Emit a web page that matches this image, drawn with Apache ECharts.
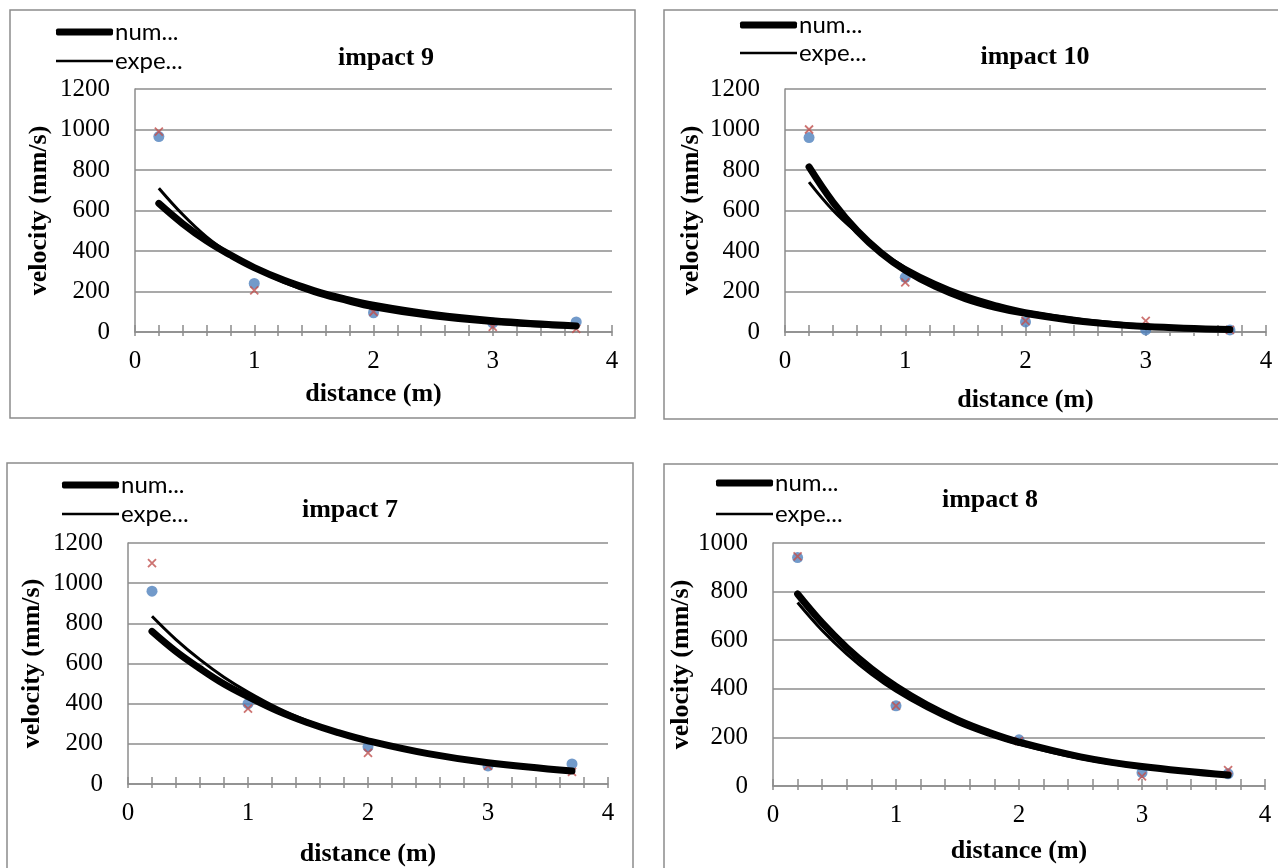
<!DOCTYPE html>
<html>
<head>
<meta charset="utf-8">
<script src="https://cdn.jsdelivr.net/npm/echarts@6/dist/echarts.min.js"></script>
<style>
html,body{margin:0;padding:0;background:#fff;}
#main{width:1278px;height:868px;}
</style>
</head>
<body>
<div id="main"></div>
<script>
// ---- data ----
const titles = ['impact 9', 'impact 10', 'impact 7', 'impact 8'];
const yMax = [1200, 1200, 1200, 1000];
const xTickLabels = ['0', '1', '2', '3', '4'];

// measured points: numerical (blue dots) and experimental (red crosses)
const num9  = [[0.2, 965], [1, 240], [2, 95], [3, 45], [3.7, 50]];
const exp9  = [[0.2, 990], [1, 205], [2, 100], [3, 25], [3.7, 15]];
const num10 = [[0.2, 960], [1, 270], [2, 50], [3, 10], [3.7, 10]];
const exp10 = [[0.2, 1000], [1, 245], [2, 55], [3, 55], [3.7, 10]];
const num7  = [[0.2, 960], [1, 400], [2, 185], [3, 90], [3.7, 100]];
const exp7  = [[0.2, 1100], [1, 375], [2, 155], [3, 90], [3.7, 60]];
const num8  = [[0.2, 940], [1, 330], [2, 190], [3, 55], [3.7, 50]];
const exp8  = [[0.2, 945], [1, 330], [2, 185], [3, 40], [3.7, 65]];

// trend curves
const trendX = [0.2, 0.4, 0.6, 0.8, 1.0, 1.25, 1.5, 1.75, 2.0, 2.5, 3.0, 3.7];
const numTrend9  = [635, 535, 450, 380, 318, 255, 205, 165, 132, 86, 56, 30];
const expTrend9  = [710, 580, 470, 385, 315, 245, 190, 150, 115, 70, 42, 22];
const numTrend10 = [815, 640, 500, 390, 305, 225, 165, 122, 92, 50, 27, 12];
const expTrend10 = [740, 600, 490, 395, 320, 245, 185, 140, 105, 60, 33, 14];
const numTrend7  = [760, 660, 575, 498, 435, 363, 305, 256, 215, 151, 106, 65];
const expTrend7  = [835, 719, 619, 532, 458, 378, 313, 259, 216, 148, 102, 60];
const numTrend8  = [790, 671, 569, 483, 410, 334, 272, 222, 181, 120, 80, 45];
const expTrend8  = [755, 640, 543, 460, 390, 318, 258, 210, 171, 113, 75, 42];

const numPts = [num9, num10, num7, num8];
const expPts = [exp9, exp10, exp7, exp8];
const numTr = [numTrend9, numTrend10, numTrend7, numTrend8];
const expTr = [expTrend9, expTrend10, expTrend7, expTrend8];

// ---- layout ----
const grids = [
  {left: 135, top: 89, width: 477, height: 243},
  {left: 785, top: 89, width: 481, height: 243},
  {left: 128, top: 543, width: 480, height: 243},
  {left: 773, top: 543, width: 492, height: 243}
];
const panels = [
  [10, 10, 625, 408],
  [664, 10, 620, 409],
  [7, 463, 626, 410],
  [664, 464, 620, 410]
];
const titlePos = [[386, 45], [1035, 44], [350, 497], [990, 487]];
const legendPos = [[56, 31, 60], [740, 24, 52], [62, 484, 513], [716, 482, 513]];
const xNameGap = [49, 55, 57, 52];
const yNameGap = [83, 81, 83, 79];

const GRAY = '#8c8c8c';
const SERIF = '"Liberation Serif","Times New Roman",serif';
const SANS = 'Lato, "Liberation Sans", sans-serif';
const CROSS = 'path://M0 0L10 10M10 0L0 10';

const zip = (xs, ys) => xs.map((x, i) => [x, ys[i]]);

const option = {
  animation: false,
  backgroundColor: '#fff',
  grid: grids.map(g => Object.assign({containLabel: false}, g)),
  title: titles.map((t, i) => ({
    text: t, left: titlePos[i][0], top: titlePos[i][1], textAlign: 'center', padding: 0,
    textStyle: {fontFamily: SERIF, fontWeight: 'bold', fontSize: 26, color: '#000'}
  })),
  legend: [],
  xAxis: [],
  yAxis: [],
  series: [],
  graphic: panels.map(p => ({
    type: 'rect', shape: {x: p[0], y: p[1], width: p[2], height: p[3]},
    style: {fill: 'none', stroke: GRAY, lineWidth: 1.5}, silent: true, z: -10
  }))
};

for (let i = 0; i < 4; i++) {
  option.xAxis.push({
    type: 'value', gridIndex: i, min: 0, max: 4, interval: 0.2, position: 'bottom',
    axisLine: {show: true, onZero: false, lineStyle: {color: GRAY, width: 1.5}},
    axisTick: {show: true, length: 4, lineStyle: {color: GRAY, width: 1.5}},
    splitLine: {show: false},
    axisLabel: {
      margin: 17, fontFamily: SERIF, fontSize: 25, color: '#000',
      formatter: v => {
        const r = Math.round(v);
        return Math.abs(v - r) < 1e-6 ? xTickLabels[r] : '';
      }
    },
    name: 'distance (m)', nameLocation: 'middle', nameGap: xNameGap[i],
    nameTextStyle: {fontFamily: SERIF, fontWeight: 'bold', fontSize: 26, color: '#000'}
  });
  option.xAxis.push({
    type: 'value', gridIndex: i, min: 0, max: 4, interval: 0.2, position: 'bottom', offset: 0,
    axisLine: {show: false},
    axisTick: {show: true, inside: true, length: 7, lineStyle: {color: GRAY, width: 1.5}},
    axisLabel: {show: false}, splitLine: {show: false}
  });
  option.yAxis.push({
    type: 'value', gridIndex: i, min: 0, max: yMax[i], interval: 200,
    axisLine: {show: true, lineStyle: {color: GRAY, width: 1.5}},
    axisTick: {show: false},
    splitLine: {show: true, lineStyle: {color: GRAY, width: 1.5}},
    axisLabel: {margin: 25, fontFamily: SERIF, fontSize: 25, color: '#000',
      formatter: v => String(Math.round(v))},
    name: 'velocity (mm/s)', nameLocation: 'middle', nameGap: yNameGap[i], nameRotate: 90,
    nameTextStyle: {fontFamily: SERIF, fontWeight: 'bold', fontSize: 26, color: '#000'}
  });
  const xi = i * 2;
  option.series.push({
    type: 'scatter', name: 'num pts', xAxisIndex: xi, yAxisIndex: i, data: numPts[i],
    symbol: 'circle', symbolSize: 11, itemStyle: {color: '#4F81BD'}, z: 2
  });
  option.series.push({
    type: 'scatter', name: 'exp pts', xAxisIndex: xi, yAxisIndex: i, data: expPts[i],
    symbol: CROSS, symbolSize: 8,
    itemStyle: {color: '#C0504D', borderColor: '#C0504D', borderWidth: 1.8}, z: 3
  });
  option.series.push({
    type: 'line', name: 'num...', xAxisIndex: xi, yAxisIndex: i, data: zip(trendX, numTr[i]),
    showSymbol: false, symbol: 'none', smooth: 0.4, z: 5,
    lineStyle: {color: '#000', width: 7, cap: 'round'}, itemStyle: {color: '#000'}
  });
  option.series.push({
    type: 'line', name: 'expe...', xAxisIndex: xi, yAxisIndex: i, data: zip(trendX, expTr[i]),
    showSymbol: false, symbol: 'none', smooth: 0.4, z: 6,
    lineStyle: {color: '#000', width: 3}, itemStyle: {color: '#000'}
  });
  const lp = legendPos[i];
  option.legend.push({
    data: [{name: 'num...', icon: 'roundRect'}], left: lp[0], top: lp[1] - 11,
    itemWidth: 57, itemHeight: 7, padding: 0, selectedMode: false,
    itemStyle: {color: '#000'},
    textStyle: {fontFamily: SANS, fontSize: 24, color: '#000', padding: [0, 0, 0, -3]}
  });
  option.legend.push({
    data: [{name: 'expe...', icon: 'rect'}], left: lp[0], top: lp[2] - 11,
    itemWidth: 57, itemHeight: 2.5, padding: 0, selectedMode: false,
    itemStyle: {color: '#000'},
    textStyle: {fontFamily: SANS, fontSize: 24, color: '#000', padding: [0, 0, 0, -3]}
  });
}

const chart = echarts.init(document.getElementById('main'), null, {renderer: 'canvas'});
chart.setOption(option);
</script>
</body>
</html>
